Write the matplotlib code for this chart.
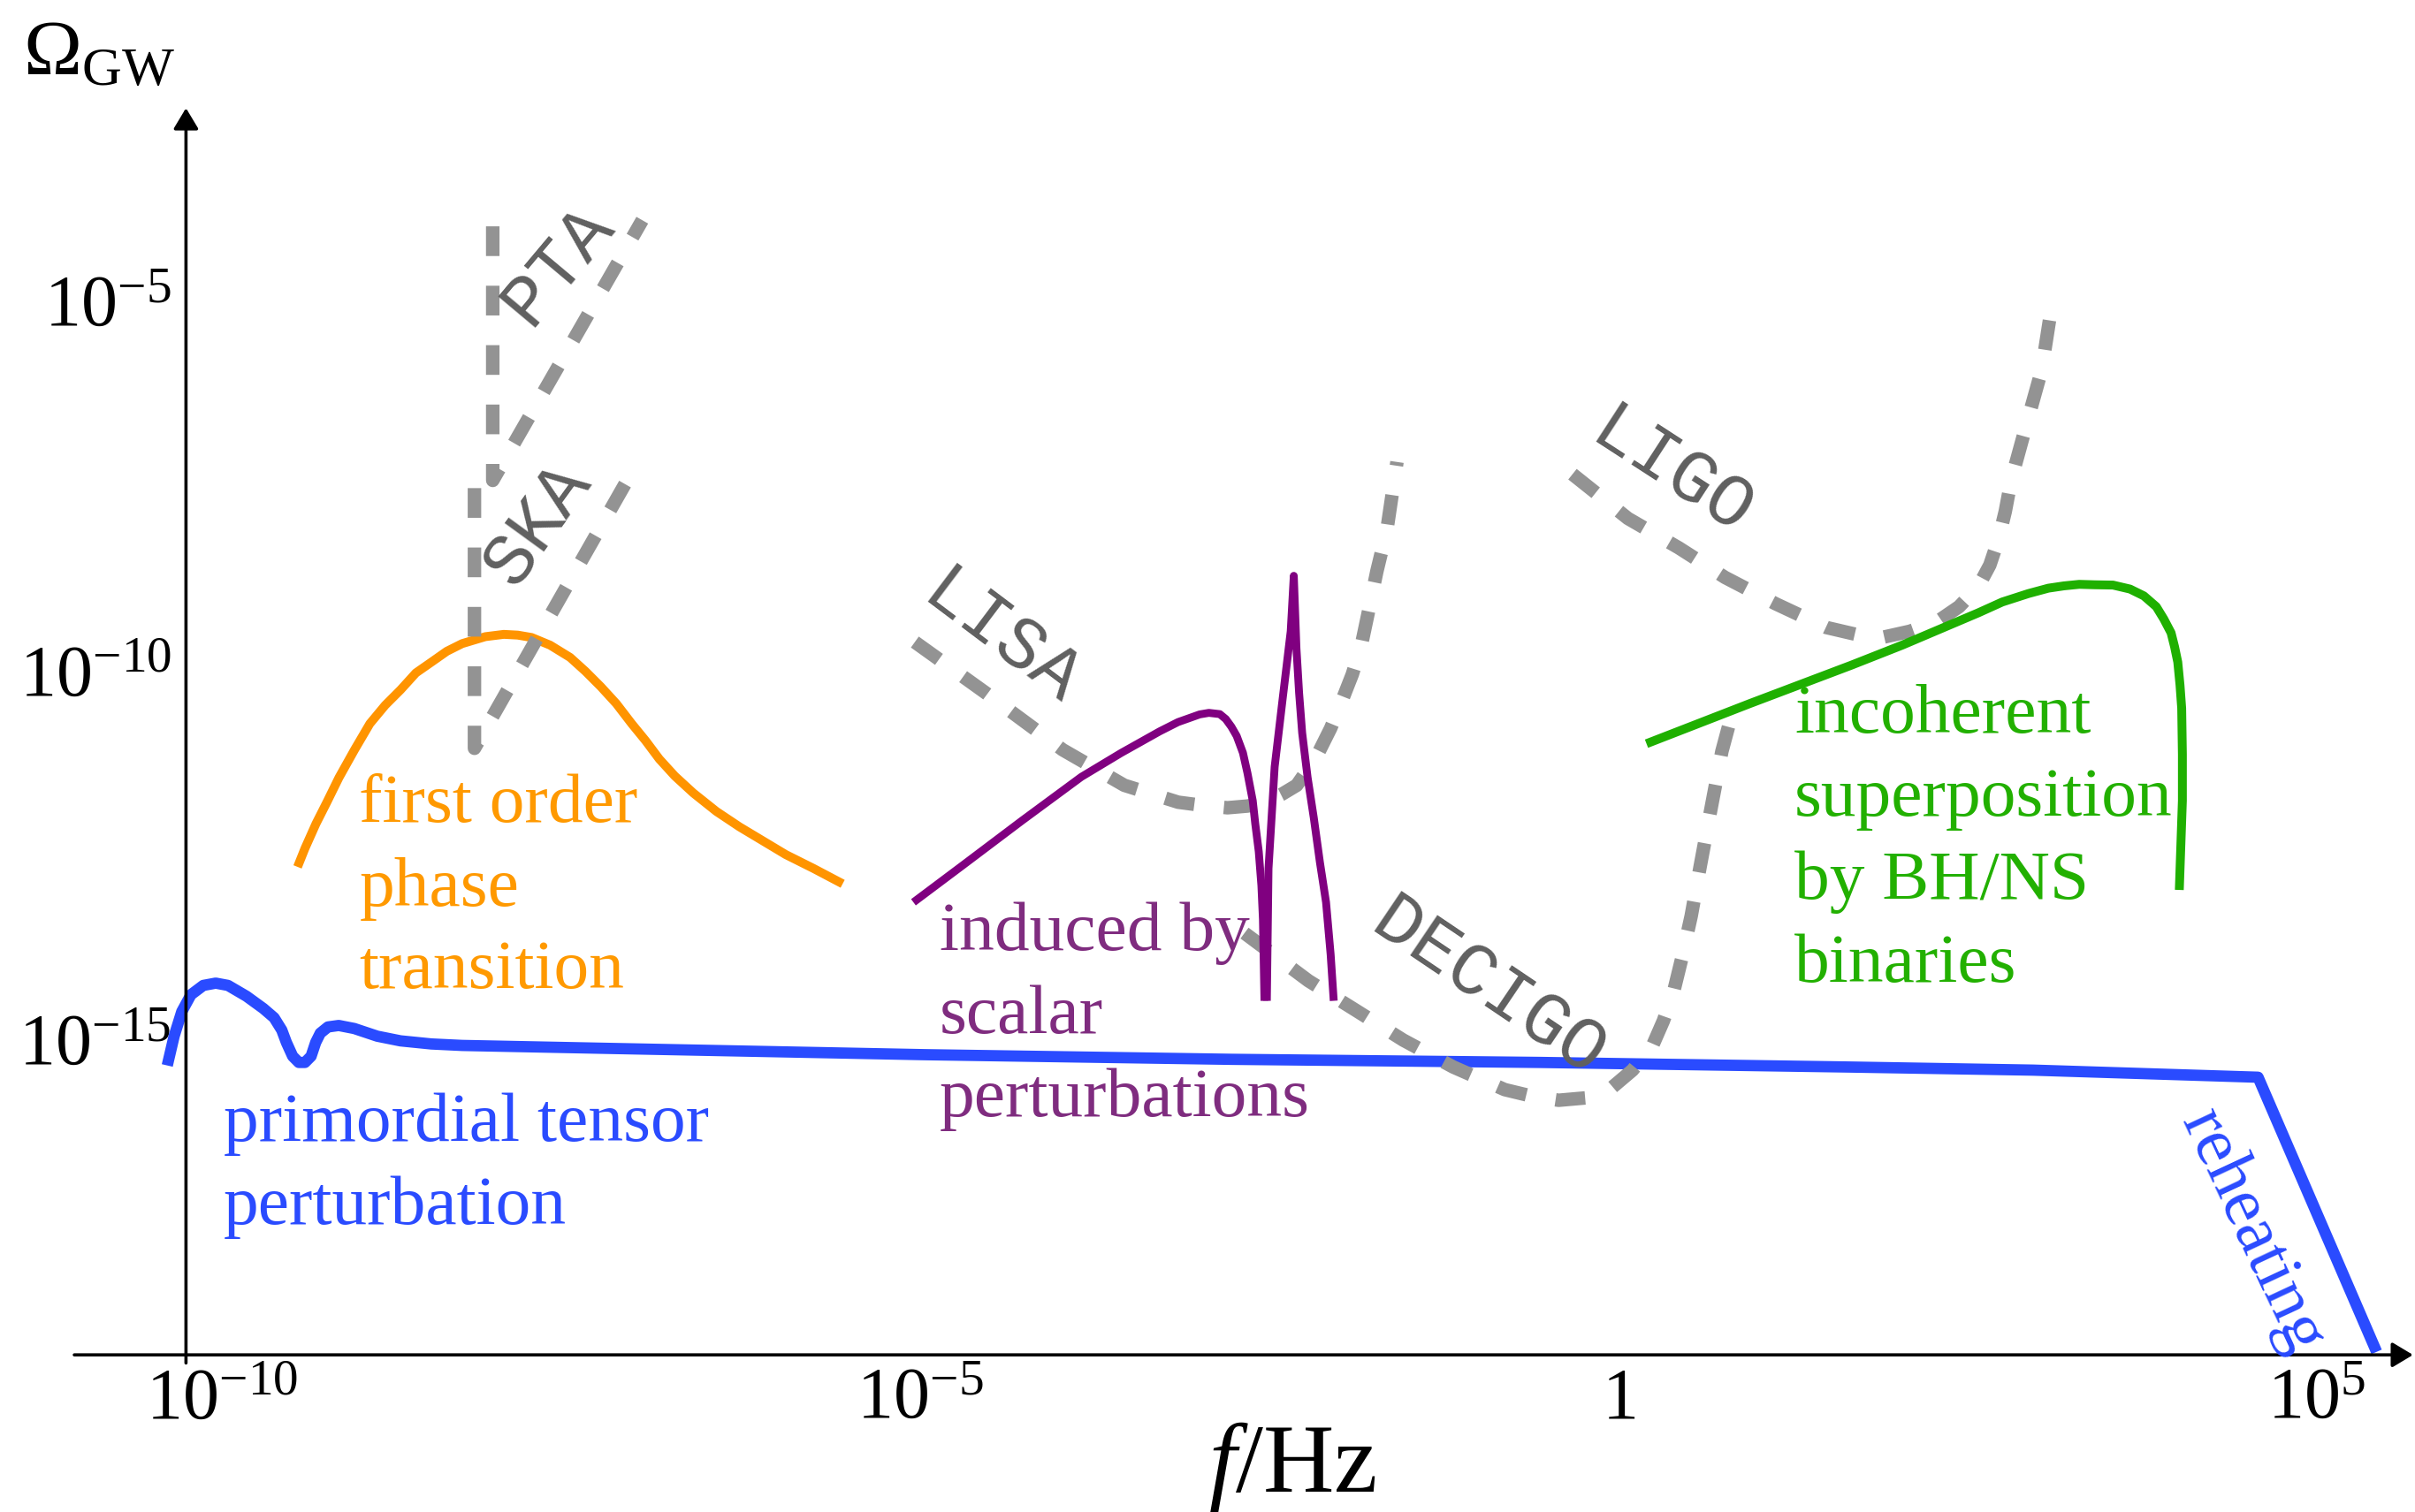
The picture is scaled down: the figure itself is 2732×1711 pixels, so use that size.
import numpy as np
import matplotlib.pyplot as plt
from matplotlib.ticker import NullLocator

plt.rcParams['font.family'] = ['Liberation Serif', 'DejaVu Serif']
plt.rcParams['mathtext.fontset'] = 'custom'
plt.rcParams['mathtext.rm'] = 'Liberation Serif'
plt.rcParams['mathtext.it'] = 'Liberation Serif:italic'
plt.rcParams['mathtext.bf'] = 'Liberation Serif:bold'

# all curves as log10(f/Hz), log10(Omega_GW)
tensor_lf = [-10.394, -10.345, -10.29, -10.224, -10.136, -10.047, -9.959, -9.827, -9.706,
             -9.629, -9.574, -9.541, -9.496, -9.452, -9.408, -9.364, -9.331, -9.298, -9.243,
             -9.166, -9.055, -8.89, -8.724, -8.503, -8.283, -7.18, -4.974, -2.768, -0.561,
             1.645, 2.969, 4.58, 5.429]
tensor_lw = [-15.354, -14.958, -14.625, -14.396, -14.271, -14.24, -14.271, -14.417, -14.583,
             -14.708, -14.875, -15.042, -15.229, -15.313, -15.313, -15.229, -15.042, -14.917,
             -14.833, -14.813, -14.854, -14.958, -15.021, -15.063, -15.083, -15.125, -15.208,
             -15.271, -15.313, -15.375, -15.417, -15.513, -19.229]

pt_lf = [-9.461, -9.408, -9.329, -9.251, -9.164, -9.053, -8.943, -8.833, -8.723, -8.613,
         -8.502, -8.392, -8.282, -8.116, -7.984, -7.884, -7.785, -7.652, -7.509, -7.399,
         -7.289, -7.178, -7.068, -6.969, -6.87, -6.759, -6.627, -6.461, -6.296, -6.13,
         -5.965, -5.766, -5.557]
pt_lw = [-12.667, -12.417, -12.083, -11.792, -11.458, -11.083, -10.729, -10.479, -10.271,
         -10.042, -9.896, -9.75, -9.646, -9.552, -9.521, -9.531, -9.563, -9.667, -9.833,
         -10.021, -10.229, -10.458, -10.729, -10.958, -11.208, -11.438, -11.667, -11.917,
         -12.125, -12.313, -12.5, -12.688, -12.896]

scalar_lf = [-5.05, -4.697, -4.273, -3.848, -3.562, -3.286, -3.155, -3.0, -2.934, -2.856,
             -2.813, -2.773, -2.735, -2.69, -2.658, -2.62, -2.602, -2.577, -2.558, -2.547,
             -2.536]
scalar_lw = [-13.146, -12.646, -12.042, -11.45, -11.125, -10.833, -10.708, -10.604, -10.583,
             -10.6, -10.667, -10.771, -10.896, -11.125, -11.396, -11.771, -12.083, -12.458,
             -12.917, -13.375, -14.479]
spike_lf = [-2.519, -2.507, -2.463, -2.406, -2.348, -2.326, -2.307, -2.288, -2.266, -2.227,
            -2.183, -2.139, -2.095, -2.062, -2.04]
spike_lw = [-14.479, -12.688, -11.313, -10.396, -9.479, -8.729, -9.708, -10.313, -10.854,
            -11.458, -12.0, -12.604, -13.146, -13.854, -14.479]

bin_lf = [0.2, 0.939, 1.667, 2.031, 2.577, 2.748, 2.935, 3.078, 3.189, 3.299, 3.41, 3.541,
          3.663, 3.762, 3.851, 3.905, 3.957, 3.982, 4.005, 4.021, 4.033, 4.038, 4.038, 4.016]
bin_lw = [-11.0, -10.458, -9.938, -9.667, -9.229, -9.083, -8.969, -8.896, -8.865, -8.844,
          -8.85, -8.854, -8.908, -9.0, -9.146, -9.313, -9.5, -9.688, -9.896, -10.208,
          -10.521, -11.146, -11.771, -12.979]

pta_lf = [-8.063, -8.063, -6.992]
pta_lw = [-4.0, -7.438, -3.917]
ska_lf = [-8.194, -8.194, -7.113]
ska_lw = [-7.542, -11.063, -7.479]
lisa_lf = [-5.04, -4.532, -3.981, -3.54, -3.154, -2.988, -2.801, -2.658, -2.525, -2.415,
           -2.305, -2.228, -2.15, -2.062, -1.985, -1.907, -1.842, -1.786, -1.731, -1.659,
           -1.587]
lisa_lw = [-9.625, -10.313, -11.083, -11.563, -11.792, -11.833, -11.867, -11.844, -11.792,
           -11.688, -11.563, -11.354, -11.125, -10.792, -10.438, -10.063, -9.667, -9.167,
           -8.667, -8.104, -7.188]
decigo_lf = [-2.679, -2.221, -1.885, -1.543, -1.184, -0.815, -0.617, -0.429, -0.231, -0.043,
             0.1, 0.244, 0.321, 0.393, 0.454, 0.52, 0.586, 0.652, 0.74, 0.817]
decigo_lw = [-13.563, -14.208, -14.604, -15.01, -15.375, -15.681, -15.771, -15.825, -15.792,
             -15.646, -15.417, -15.083, -14.75, -14.367, -13.896, -13.333, -12.646, -11.979,
             -11.104, -10.563]
ligo_lf = [-0.33, 0.067, 0.431, 0.762, 1.122, 1.486, 1.7, 1.887, 2.086, 2.284, 2.439, 2.578,
           2.659, 2.722, 2.77, 2.812, 2.922, 3.031, 3.112]
ligo_lw = [-7.354, -7.952, -8.35, -8.75, -9.104, -9.427, -9.521, -9.563, -9.479, -9.346,
           -9.146, -8.869, -8.583, -8.229, -7.854, -7.433, -6.677, -5.938, -4.958]

xtick_vals = [1e-10, 1e-5, 1, 1e5]
xtick_labels = [r'$10^{-10}$', r'$10^{-5}$', r'$1$', r'$10^{5}$']
ytick_vals = [1e-15, 1e-10, 1e-5]
ytick_labels = [r'$10^{-15}$', r'$10^{-10}$', r'$10^{-5}$']

fig = plt.figure(figsize=(13.66, 8.555), dpi=200)
ax = fig.add_axes([0, 0, 1, 1])
ax.set_xscale('log')
ax.set_yscale('log')
ax.set_xlim(10**-11.592, 10**5.704)
ax.set_ylim(10**-21.396, 10**-0.9375)

def P(lf, lw):
    return 10.0**np.array(lf), 10.0**np.array(lw)

orange = '#FF9400'
purple = '#800080'
green = '#1FB000'
blue = '#2A4BFF'
gray = '#939393'

ax.plot(*P(pt_lf, pt_lw), color=orange, lw=3.6, zorder=2, solid_capstyle='butt')
ax.plot(*P(tensor_lf, tensor_lw), color=blue, lw=4.6, zorder=2, solid_capstyle='butt')

for lf, lw in [(pta_lf, pta_lw), (ska_lf, ska_lw), (lisa_lf, lisa_lw),
               (decigo_lf, decigo_lw), (ligo_lf, ligo_lw)]:
    ax.plot(*P(lf, lw), color=gray, lw=5.5, ls=(0, (2.2, 2.2)), zorder=3)

ax.plot(*P(scalar_lf, scalar_lw), color=purple, lw=3.2, zorder=4, solid_capstyle='butt')
ax.plot(*P(spike_lf, spike_lw), color=purple, lw=3.2, zorder=4, solid_capstyle='butt')
ax.plot(*P(bin_lf, bin_lw), color=green, lw=3.6, zorder=4, solid_capstyle='butt')

# axes as arrows
for sp in ax.spines.values():
    sp.set_visible(False)
ax.spines['bottom'].set_position(('data', 10**-19.27))
ax.spines['left'].set_position(('data', 10**-10.26))
arrow = dict(arrowstyle='-|>,head_length=0.4,head_width=0.24', lw=1.3, color='k',
             shrinkA=0, shrinkB=0, mutation_scale=18)
ax.annotate('', xy=(10**5.69, 10**-19.27), xytext=(10**-11.06, 10**-19.27), arrowprops=arrow)
ax.annotate('', xy=(10**-10.26, 10**-2.40), xytext=(10**-10.26, 10**-19.38), arrowprops=arrow)

ax.set_xticks(xtick_vals, labels=xtick_labels)
ax.set_yticks(ytick_vals, labels=ytick_labels)
ax.xaxis.set_minor_locator(NullLocator())
ax.yaxis.set_minor_locator(NullLocator())
ax.tick_params(axis='both', length=0, labelsize=29.5)
ax.tick_params(axis='x', pad=5)
ax.tick_params(axis='y', pad=6)

fig.text(15 / 1568, 1 - 48 / 982, r'$\Omega_{\rm GW}$', fontsize=32, va='baseline')
fig.text(839 / 1568, 1 - 969 / 982, r'$f/\mathrm{Hz}$', fontsize=40, ha='center', va='baseline')

# curve labels
tsize = 28.6
ls = 1.41
ax.text(10**-9.02, 10**-12.96, 'first order\nphase\ntransition', color='#FF9900',
        fontsize=tsize, va='center', linespacing=ls, zorder=5)
ax.text(10**-4.861, 10**-14.688, 'induced by\nscalar\nperturbations', color='#7F2C7F',
        fontsize=tsize, va='center', linespacing=ls, zorder=5)
ax.text(10**1.259, 10**-12.313, 'incoherent\nsuperposition\nby BH/NS\nbinaries', color='#22B000',
        fontsize=tsize, va='center', linespacing=ls, zorder=5)
ax.text(10**-9.992, 10**-16.708, 'primordial tensor\nperturbation', color=blue,
        fontsize=tsize, va='center', linespacing=ls, zorder=5)
ax.text(10**4.535, 10**-17.604, 'reheating', color=blue, fontsize=tsize, rotation=-65,
        ha='center', va='center', rotation_mode='anchor', zorder=5)

# detector labels
det = dict(family='Liberation Mono', color='#606060', fontsize=30, ha='center', va='center',
           rotation_mode='anchor', zorder=5)
ax.text(10**-7.6, 10**-4.521, 'PTA', rotation=50, **det)
ax.text(10**-7.743, 10**-8.021, 'SKA', rotation=54, **det)
ax.text(10**-4.422, 10**-9.583, 'LISA', rotation=-37, **det)
ax.text(10**0.376, 10**-7.333, 'LIGO', rotation=-33, **det)
ax.text(10**-0.936, 10**-14.313, 'DECIGO', rotation=-34, **det)

fig.savefig('out.png', dpi=200)
